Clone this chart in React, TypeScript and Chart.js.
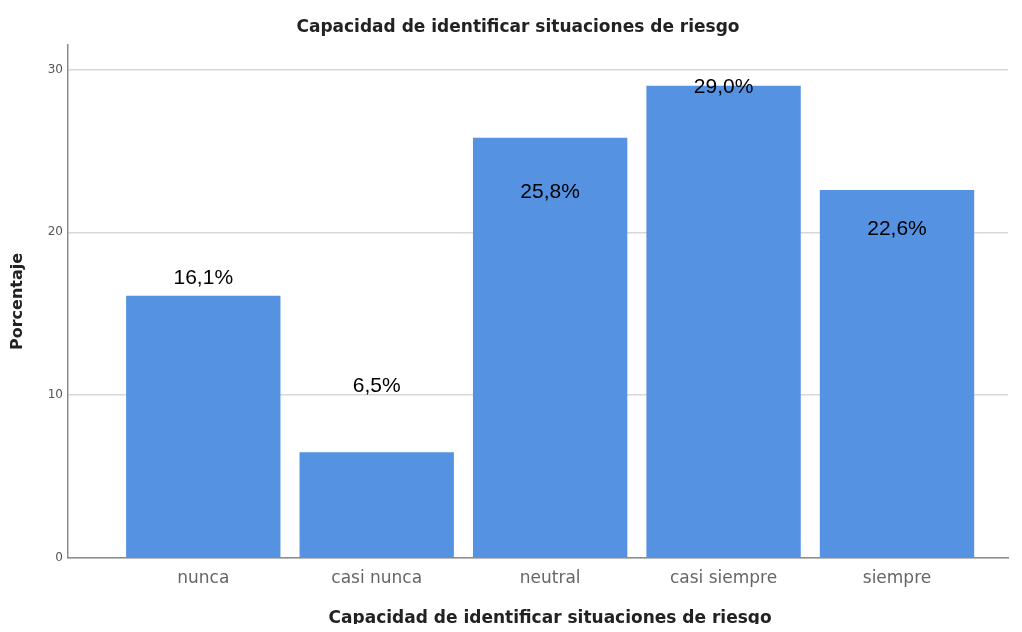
import React, { useEffect, useRef } from "react";
import { Chart, registerables } from "chart.js";

Chart.register(...registerables);

const title = "Capacidad de identificar situaciones de riesgo";
const categories = ["nunca", "casi nunca", "neutral", "casi siempre", "siempre"];
const percentages = [16.1, 6.5, 25.8, 29.0, 22.6];
const valueLabels = ["16,1%", "6,5%", "25,8%", "29,0%", "22,6%"];
const labelPositions = [17.2, 10.55, 22.45, 28.9, 20.2];
const yTicks = [0, 10, 20, 30];

const SANS = "'Liberation Sans', Arial, sans-serif";
const DEJA = "'DejaVu Sans', sans-serif";

const overlayPlugin = {
  id: "overlay",
  afterDatasetsDraw(chart: any) {
    const { ctx } = chart;
    const x = chart.scales.x;
    const y = chart.scales.y;
    ctx.save();
    ctx.fillStyle = "#000";
    ctx.font = `21px ${SANS}`;
    ctx.textAlign = "center";
    ctx.textBaseline = "middle";
    valueLabels.forEach((t, i) => {
      ctx.fillText(t, x.getPixelForValue(i), y.getPixelForValue(labelPositions[i]));
    });
    ctx.fillStyle = "#222";
    ctx.font = `bold 17px ${DEJA}`;
    ctx.fillText(title, 510, 20);
    const cx = (x.getPixelForValue(0) + x.getPixelForValue(categories.length - 1)) / 2;
    ctx.fillText(title, cx, 611);
    ctx.restore();
  },
};

export default function App() {
  const ref = useRef<HTMLCanvasElement>(null);
  useEffect(() => {
    if (!ref.current) return;
    const chart = new Chart(ref.current, {
      type: "bar",
      data: {
        datasets: [
          {
            data: percentages.map((v, i) => ({ x: i, y: v })),
            backgroundColor: "#5592e1",
            borderWidth: 0,
            categoryPercentage: 1,
            barPercentage: 0.89,
          },
        ],
      },
      options: {
        animation: false,
        responsive: false,
        layout: { padding: { top: 37, right: 6, left: 0, bottom: 0 } },
        plugins: { legend: { display: false }, tooltip: { enabled: false }, title: { display: false } },
        scales: {
          x: {
            type: "linear",
            offset: false,
            min: -0.78,
            max: 4.64,
            afterBuildTicks: (s: any) => {
              s.ticks = categories.map((_, i) => ({ value: i }));
            },
            afterFit: (s: any) => {
              s.height = 66;
            },
            grid: { display: false, drawTicks: false, offset: false },
            border: { display: true, color: "#8c8c8c", width: 1.5 },
            ticks: {
              autoSkip: false,
              maxRotation: 0,
              padding: 10,
              color: "#666",
              font: { family: DEJA, size: 17 },
              callback: (v: any) => categories[v] ?? "",
            },
          },
          y: {
            min: 0,
            max: 31.5,
            afterBuildTicks: (s: any) => {
              s.ticks = yTicks.map((v) => ({ value: v }));
            },
            afterFit: (s: any) => {
              s.width = 60;
            },
            grid: { color: "#d8d8d8", lineWidth: 1.5, drawTicks: false },
            border: { display: true, color: "#8c8c8c", width: 1.5 },
            ticks: { padding: 5, color: "#555", font: { family: DEJA, size: 12 } },
            title: {
              display: true,
              text: "Porcentaje",
              color: "#222",
              font: { family: DEJA, size: 16, weight: "bold" },
              padding: { top: 0, bottom: 0 },
            },
          },
        },
      },
      plugins: [overlayPlugin],
    });
    return () => chart.destroy();
  }, []);
  return (
    <div style={{ width: 1006, height: 616 }}>
      <canvas ref={ref} width={1006} height={616} style={{ display: "block" }} />
    </div>
  );
}
